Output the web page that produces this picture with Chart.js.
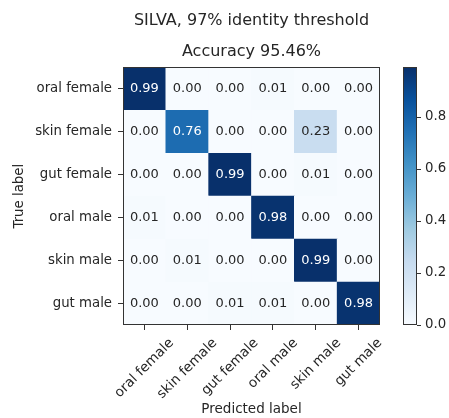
<!DOCTYPE html>
<html>
<head>
<meta charset="utf-8">
<script src="https://cdn.jsdelivr.net/npm/chart.js@4.4.1/dist/chart.umd.min.js"></script>
<style>
  html, body { margin: 0; padding: 0; background: #ffffff; }
  canvas { display: block; }
</style>
</head>
<body>
<canvas id="c" width="449" height="418"></canvas>
<script>
// ---- data ----
const suptitleText = "SILVA, 97% identity threshold";
const titleText = "Accuracy 95.46%";
const xTitle = "Predicted label";
const yTitle = "True label";
const trueLabels = ["oral female", "skin female", "gut female", "oral male", "skin male", "gut male"];
const predictedLabels = ["oral female", "skin female", "gut female", "oral male", "skin male", "gut male"];
// rows: true label, columns: predicted label
const oralFemale = [0.99, 0.00, 0.00, 0.01, 0.00, 0.00];
const skinFemale = [0.00, 0.76, 0.00, 0.00, 0.23, 0.00];
const gutFemale  = [0.00, 0.00, 0.99, 0.00, 0.01, 0.00];
const oralMale   = [0.01, 0.00, 0.00, 0.98, 0.00, 0.00];
const skinMale   = [0.00, 0.01, 0.00, 0.00, 0.99, 0.00];
const gutMale    = [0.00, 0.00, 0.01, 0.01, 0.00, 0.98];
const colorbarTicks = [0.0, 0.2, 0.4, 0.6, 0.8];

const matrix = [oralFemale, skinFemale, gutFemale, oralMale, skinMale, gutMale];
const vmin = 0;
const vmax = Math.max(...matrix.flat());

// matplotlib "Blues" colormap
const bluesStops = ["#f7fbff", "#deebf7", "#c6dbef", "#9ecae1", "#6baed6", "#4292c6", "#2171b5", "#08519c", "#08306b"];
function hexToRgb(h) { return [parseInt(h.slice(1,3),16), parseInt(h.slice(3,5),16), parseInt(h.slice(5,7),16)]; }
function blues(v) {
  let t = (v - vmin) / (vmax - vmin);
  t = Math.max(0, Math.min(1, t));
  const p = t * (bluesStops.length - 1);
  const i = Math.min(Math.floor(p), bluesStops.length - 2);
  const f = p - i;
  const a = hexToRgb(bluesStops[i]), b = hexToRgb(bluesStops[i + 1]);
  const c = a.map((x, k) => Math.round(x + (b[k] - x) * f));
  return `rgb(${c[0]},${c[1]},${c[2]})`;
}

const FONT = "'DejaVu Sans', 'Liberation Sans', sans-serif";
const TEXT = "#262626";

// bottom row first (stacking order bottom -> top)
const datasets = trueLabels.map((lab, r) => ({
  label: lab,
  data: predictedLabels.map(() => 1),
  cellValues: matrix[r],
  backgroundColor: matrix[r].map(blues),
  borderWidth: 0,
  barPercentage: 1,
  categoryPercentage: 1,
  yAxisID: 'y'
})).reverse();

const heatPlugin = {
  id: 'heat',
  afterDatasetsDraw(chart) {
    const ctx = chart.ctx;
    ctx.save();
    ctx.font = "13px " + FONT;
    ctx.textAlign = "center";
    ctx.textBaseline = "middle";
    chart.data.datasets.forEach((ds, di) => {
      const meta = chart.getDatasetMeta(di);
      meta.data.forEach((bar, ci) => {
        const v = ds.cellValues[ci];
        ctx.fillStyle = v > vmax / 2 ? "#ffffff" : TEXT;
        ctx.fillText(v.toFixed(2), bar.x, (bar.y + bar.base) / 2);
      });
    });
    const a = chart.chartArea;
    ctx.strokeStyle = "#333333";
    ctx.lineWidth = 1;
    ctx.strokeRect(Math.round(a.left) + 0.5, Math.round(a.top) + 0.5, Math.round(a.width) - 1, Math.round(a.height) - 1);
    ctx.restore();
  },
  afterDraw(chart) {
    const ctx = chart.ctx;
    // rotated x tick labels (centre-aligned like matplotlib)
    const xs = chart.scales.x;
    ctx.save();
    ctx.font = "13.6px " + FONT;
    ctx.fillStyle = TEXT;
    ctx.textAlign = "center";
    ctx.textBaseline = "middle";
    predictedLabels.forEach((lab, i) => {
      const px = xs.getPixelForTick(i);
      const w = ctx.measureText(lab).width;
      const h = 14;
      const bh = Math.SQRT1_2 * (w + h);
      const cy = xs.top + 5 + 6 + bh / 2;
      ctx.save();
      ctx.translate(px, cy);
      ctx.rotate(-Math.PI / 4);
      ctx.fillText(lab, 0, 0);
      ctx.restore();
    });
    ctx.restore();

    // colorbar
    const cb = chart.scales.cb;
    const x0 = cb.left + 23, bw = 14;
    const yBot = cb.getPixelForValue(vmin), yTop = cb.getPixelForValue(vmax);
    ctx.save();
    const g = ctx.createLinearGradient(0, yBot, 0, yTop);
    bluesStops.forEach((c, i) => g.addColorStop(i / (bluesStops.length - 1), c));
    ctx.fillStyle = g;
    ctx.fillRect(x0, yTop, bw, yBot - yTop);
    ctx.strokeStyle = "#333333";
    ctx.lineWidth = 1;
    ctx.strokeRect(x0 + 0.5, Math.round(yTop) + 0.5, bw - 1, Math.round(yBot - yTop) - 1);
    ctx.beginPath();
    colorbarTicks.forEach(t => {
      const y = Math.round(cb.getPixelForValue(t)) + 0.5;
      ctx.moveTo(x0 + bw, y);
      ctx.lineTo(x0 + bw + 4, y);
    });
    ctx.stroke();
    ctx.restore();
  }
};

new Chart(document.getElementById('c'), {
  type: 'bar',
  data: { labels: predictedLabels, datasets },
  options: {
    responsive: false,
    animation: false,
    layout: { padding: 0 },
    plugins: {
      legend: { display: false },
      tooltip: { enabled: false },
      title: {
        display: true, text: suptitleText, fullSize: false, color: TEXT,
        font: { family: FONT, size: 16, weight: 'normal', lineHeight: 1.2 },
        padding: { top: 11, bottom: 0 }
      },
      subtitle: {
        display: true, text: titleText, fullSize: false, color: TEXT,
        font: { family: FONT, size: 16, weight: 'normal', lineHeight: 1.2 },
        padding: { top: 12, bottom: 6 }
      }
    },
    scales: {
      x: {
        stacked: true,
        offset: true,
        grid: { offset: false, drawOnChartArea: false, drawTicks: true, tickLength: 5, color: "#333333" },
        border: { display: false },
        ticks: { display: false },
        title: { display: true, text: xTitle, color: TEXT, font: { family: FONT, size: 13.5 }, padding: { top: 0, bottom: 0 } },
        afterFit(s) { s.height = 93; }
      },
      y: {
        stacked: true,
        min: 0, max: trueLabels.length,
        position: 'left',
        grid: { drawOnChartArea: false, drawTicks: true, tickLength: 5, color: "#333333" },
        border: { display: false },
        afterBuildTicks(s) { s.ticks = trueLabels.map((_, i) => ({ value: i + 0.5 })); },
        ticks: {
          color: TEXT, font: { family: FONT, size: 13.3 }, padding: 6, autoSkip: false,
          callback: (v) => trueLabels[trueLabels.length - 1 - Math.floor(v)]
        },
        title: { display: true, text: yTitle, color: TEXT, font: { family: FONT, size: 13.3 }, padding: { top: 12, bottom: 0 } },
        afterFit(s) { s.width = 123; }
      },
      cb: {
        type: 'linear',
        position: 'right',
        min: vmin, max: vmax,
        grid: { display: false, drawTicks: false },
        border: { display: false },
        afterBuildTicks(s) { s.ticks = colorbarTicks.map(v => ({ value: v })); },
        ticks: { color: TEXT, font: { family: FONT, size: 13.3 }, padding: 45, callback: (v) => v.toFixed(1) },
        afterFit(s) { s.width = 69; }
      }
    }
  },
  plugins: [heatPlugin]
});
</script>
</body>
</html>
